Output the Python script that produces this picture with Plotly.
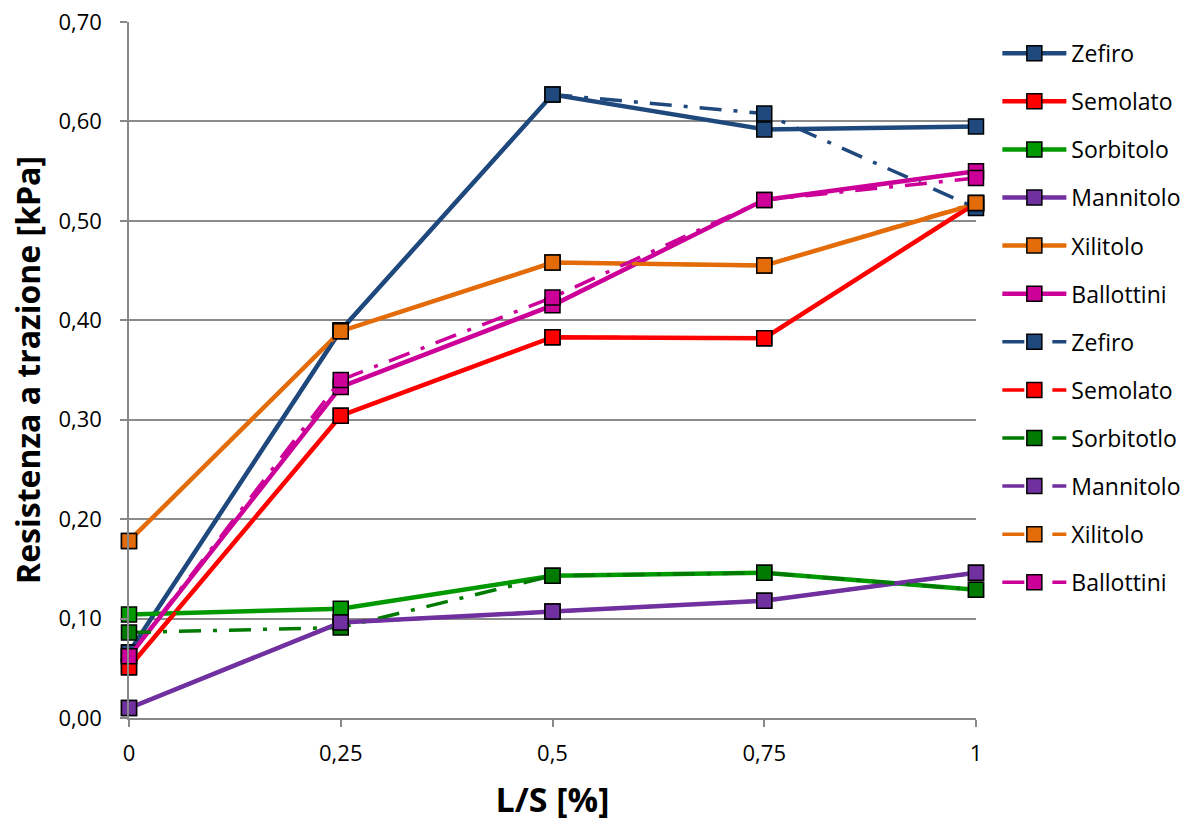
import plotly.graph_objects as go

x_vals = [0, 0.25, 0.5, 0.75, 1]
x_ticktext = ["0", "0,25", "0,5", "0,75", "1"]

# solid series
zefiro_a = [0.066, 0.390, 0.627, 0.592, 0.595]
semolato_a = [0.051, 0.304, 0.383, 0.382, 0.518]
sorbitolo_a = [0.104, 0.110, 0.143, 0.146, 0.129]
mannitolo_a = [0.010, 0.096, 0.107, 0.118, 0.146]
xilitolo_a = [0.178, 0.389, 0.458, 0.455, 0.517]
ballottini_a = [0.062, 0.333, 0.415, 0.521, 0.550]

# dash-dot series
zefiro_b = [0.066, 0.390, 0.627, 0.608, 0.513]
semolato_b = [0.051, 0.304, 0.383, 0.382, 0.518]
sorbitolo_b = [0.086, 0.091, 0.143, 0.146, 0.129]
mannitolo_b = [0.010, 0.096, 0.107, 0.118, 0.146]
xilitolo_b = [0.178, 0.389, 0.458, 0.455, 0.518]
ballottini_b = [0.062, 0.340, 0.423, 0.521, 0.543]

names_a = ["Zefiro", "Semolato", "Sorbitolo", "Mannitolo", "Xilitolo", "Ballottini"]
names_b = ["Zefiro", "Semolato", "Sorbitotlo", "Mannitolo", "Xilitolo", "Ballottini"]
data_a = [zefiro_a, semolato_a, sorbitolo_a, mannitolo_a, xilitolo_a, ballottini_a]
data_b = [zefiro_b, semolato_b, sorbitolo_b, mannitolo_b, xilitolo_b, ballottini_b]
colors_a = ["#1F497D", "#FF0000", "#009A00", "#7030A0", "#E36C09", "#CC0099"]
colors_b = ["#1F497D", "#FF0000", "#007A00", "#7030A0", "#E36C09", "#CC0099"]

fig = go.Figure()
i = 0
for name, ys, c in zip(names_a, data_a, colors_a):
    fig.add_trace(go.Scatter(
        x=x_vals, y=ys, name=name, mode="lines+markers",
        line=dict(color=c, width=4.5),
        marker=dict(symbol="square", size=15, color=c, line=dict(color="black", width=1.5)),
        cliponaxis=False, legendgroup=f"g{i}"))
    i += 1
for name, ys, c in zip(names_b, data_b, colors_b):
    fig.add_trace(go.Scatter(
        x=x_vals, y=ys, name=name, mode="lines+markers",
        line=dict(color=c, width=3.5, dash="22px,12px,4px,12px"),
        marker=dict(symbol="square", size=15, color=c, line=dict(color="black", width=1.5)),
        cliponaxis=False, legendgroup=f"g{i}"))
    i += 1

fig.update_layout(
    width=1197, height=825,
    margin=dict(l=129, r=220, t=22, b=107),
    plot_bgcolor="white", paper_bgcolor="white",
    separators=",.",
    font=dict(family="Open Sans, Liberation Sans, sans-serif", color="#000000"),
    legend=dict(x=1.024, y=0.986, xanchor="left", yanchor="top",
                font=dict(size=23, family="Open Sans, sans-serif"),
                tracegroupgap=15.2, itemwidth=64, bgcolor="rgba(0,0,0,0)"),
    xaxis=dict(
        range=[0, 1], tickmode="array", tickvals=x_vals, ticktext=x_ticktext,
        showgrid=False, zeroline=False, showline=True, linecolor="#888888", linewidth=1.5,
        ticks="outside", ticklen=7, tickcolor="#888888", tickwidth=1.5,
        ticklabelstandoff=8, automargin=False,
        tickfont=dict(size=22, family="Open Sans, sans-serif"),
        title=dict(text="<b>L/S [%]</b>", font=dict(size=34, family="Open Sans, sans-serif"), standoff=22),
    ),
    yaxis=dict(
        range=[0, 0.70], tick0=0, dtick=0.1, tickformat=".2f",
        showgrid=True, gridcolor="#8c8c8c", gridwidth=1.5,
        zeroline=False, showline=True, linecolor="#888888", linewidth=1.5,
        ticks="outside", ticklen=7, tickcolor="#888888", tickwidth=1.5,
        ticklabelstandoff=14, automargin=False,
        tickfont=dict(size=22, family="Open Sans, sans-serif"),
        title=dict(text="<b>Resistenza a trazione [kPa]</b>", font=dict(size=32, family="Open Sans, sans-serif"), standoff=8),
    ),
)

fig.write_html("out.html")
